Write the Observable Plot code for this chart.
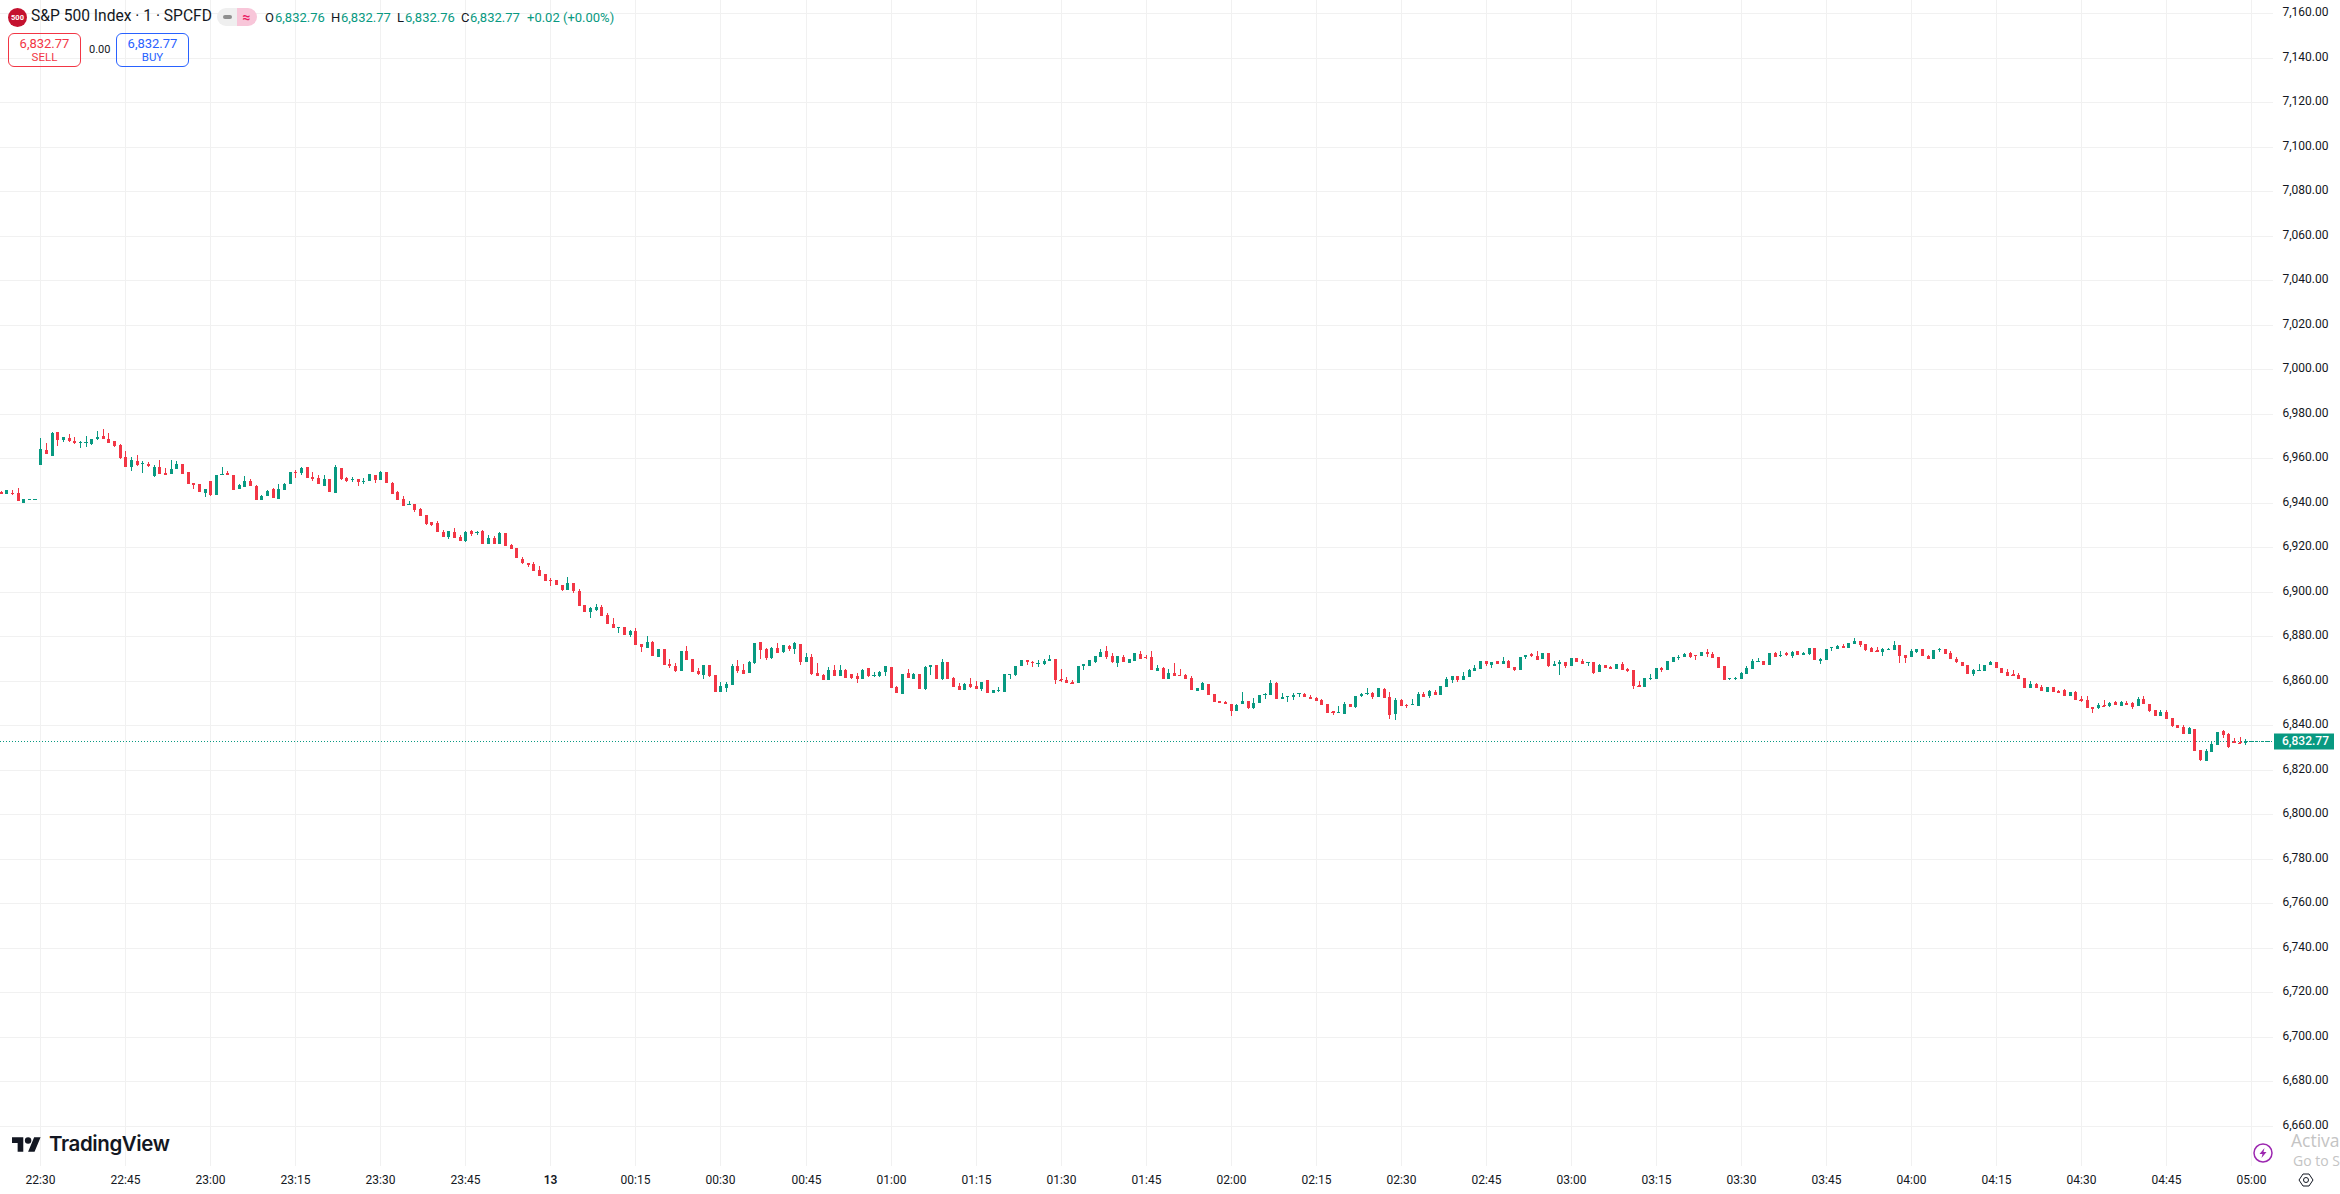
<!DOCTYPE html>
<html><head><meta charset="utf-8">
<script src="https://cdn.jsdelivr.net/npm/d3@7"></script>
<script src="https://cdn.jsdelivr.net/npm/@observablehq/plot@0.6"></script>
<style>
html,body{margin:0;padding:0;background:#fff;width:2340px;height:1194px;overflow:hidden}
#wrap{position:relative;width:2340px;height:1194px;overflow:hidden;font-family:Roboto,sans-serif;color:#131722}
#wrap svg.plot{display:block}
.o{position:absolute;white-space:nowrap;line-height:1}
.box{position:absolute;box-sizing:border-box;border:1px solid;border-radius:6px;top:33px;height:34px;width:73px;text-align:center}
.box div{position:absolute;left:0;right:0;line-height:1}
</style></head><body><div id="wrap"></div>
<script>
// each row: open, high, low, close
const bars2223 = [ // 22:23 - 22:59
[6945,6945.3,6943.95,6944.1],[6944.1,6945.75,6944.1,6945.75],[6944.55,6945.75,6943.5,6943.95],[6944.4,6946.65,6940.8,6940.8],[6939.9,6941.7,6939.9,6941.7],[6941.55,6941.55,6941.55,6941.55],[6941.55,6941.55,6941.55,6941.55],
[6957,6969.15,6957,6964.2],[6963.75,6966.9,6961.95,6961.95],[6961.05,6971.7,6961.05,6971.4],[6971.85,6971.85,6965.55,6968.25],[6968.25,6969.6,6967.35,6969.6],[6969.15,6970.95,6967.35,6967.8],[6967.8,6969.6,6966.45,6967.35],[6967.05,6967.8,6964.65,6967.35],[6967.05,6970.05,6965.1,6967.35],[6966.45,6968.7,6966,6968.7],
[6968.7,6972.3,6968.25,6969.6],[6970.05,6973.2,6968.7,6968.7],[6968.7,6971.4,6966.9,6966.9],[6967.8,6967.8,6965.1,6965.55],[6966,6966.45,6959.7,6960.15],[6960.6,6963.3,6956.1,6956.1],[6956.1,6960.6,6954.3,6959.25],[6958.8,6961.5,6956.55,6957],[6957.75,6958.8,6953.4,6957.9],[6957.45,6958.35,6956.1,6956.55],
[6952.05,6957,6951.6,6956.1],[6956.1,6959.25,6952.95,6952.95],[6953.4,6955.65,6952.5,6952.95],[6952.95,6959.25,6952.95,6955.2],[6955.2,6958.8,6955.2,6957.45],[6957.45,6957.45,6952.95,6952.95],[6953.85,6953.85,6948.45,6948.45],[6948.9,6948.9,6946.2,6948.6],[6948.45,6948.45,6944.85,6944.85],[6944.4,6946.2,6942.6,6946.2]
];
const bars2300 = [ // 23:00 - 23:59
[6949.8,6949.8,6943.05,6943.5],[6943.5,6952.5,6943.5,6952.5],[6952.65,6956.1,6952.65,6952.95],[6953.4,6954.3,6952.5,6952.95],[6952.5,6952.5,6945.75,6945.75],[6946.2,6948.45,6946.2,6948],[6947.1,6952.05,6947.1,6949.8],[6949.8,6950.7,6947.55,6947.55],[6947.55,6948,6941.25,6941.25],[6941.25,6943.5,6941.25,6943.05],
[6943.05,6945.75,6943.05,6945.3],[6946.2,6946.65,6942.15,6942.15],[6941.7,6948.45,6941.7,6946.2],[6945.75,6948.9,6945.75,6948.45],[6948.45,6953.85,6948.45,6953.85],[6953.85,6954.75,6951.15,6953.7],[6953.4,6956.1,6952.5,6955.65],[6956.1,6956.1,6951.15,6951.15],[6951.6,6953.85,6949.8,6951.15],[6951.15,6952.5,6948.45,6948.45],
[6947.55,6952.5,6947.55,6950.7],[6950.7,6950.7,6944.85,6944.85],[6944.4,6957,6944.4,6956.1],[6955.65,6955.65,6950.25,6950.7],[6951.15,6951.6,6949.35,6949.8],[6950.4,6951.6,6949.35,6950.7],[6950.7,6950.7,6947.55,6949.35],[6949.5,6951.15,6948.45,6949.8],[6949.8,6952.95,6949.8,6952.95],[6952.5,6952.5,6948.9,6950.25],
[6950.25,6954.3,6950.25,6953.85],[6953.85,6953.85,6948.9,6948.9],[6948.9,6949.35,6943.95,6943.95],[6944.85,6945.3,6941.25,6941.25],[6941.85,6943.2,6938.7,6938.7],[6939.15,6940.95,6939.15,6939.6],[6939.6,6939.6,6936,6936.9],[6937.35,6937.8,6934.2,6934.2],[6934.65,6934.65,6930.15,6930.6],[6931.5,6931.5,6929.7,6930.15],
[6931.05,6931.95,6927,6927],[6927,6927.9,6924.75,6924.75],[6924.75,6927.45,6923.85,6927.45],[6927,6928.8,6924.3,6924.3],[6924.75,6925.65,6922.95,6922.95],[6922.95,6927.45,6922.5,6927],[6927.45,6927.9,6925.2,6926.1],[6926.7,6927.45,6925.65,6927],[6927.45,6927.9,6921.6,6921.6],[6921.6,6925.65,6921.6,6924.3],
[6924.3,6925.2,6921.6,6921.6],[6921.6,6927,6921.6,6926.55],[6926.55,6926.55,6920.7,6920.7],[6921.15,6921.6,6919.35,6919.35],[6919.8,6919.8,6915.3,6915.3],[6914.85,6915.75,6912.6,6913.05],[6913.05,6913.05,6911.25,6912.15],[6912.6,6913.5,6909.45,6909.45],[6909.9,6911.7,6907.2,6907.2],[6908.1,6908.1,6904.95,6904.95]
];
const bars0000 = [ // 00:00 - 00:59
[6905.4,6906.3,6902.7,6905.1],[6905.4,6905.4,6903.15,6903.15],[6903.15,6903.15,6900.45,6900.9],[6900.9,6906.75,6900.9,6904.05],[6904.05,6904.05,6899.55,6900.45],[6900.45,6901.35,6893.7,6893.7],[6894.15,6894.15,6891,6891],[6891,6893.25,6888.3,6892.8],[6891.9,6894.6,6891.45,6893.25],[6893.25,6894.15,6889.2,6889.2],
[6889.65,6890.55,6885.6,6885.6],[6885.6,6888.3,6883.8,6883.8],[6883.95,6884.25,6881.55,6884.25],[6884.25,6884.25,6880.65,6880.65],[6880.65,6882.9,6879.75,6882.45],[6882.45,6883.8,6876.15,6876.15],[6876.6,6876.6,6873,6875.25],[6874.8,6880.2,6874.8,6877.5],[6877.5,6877.95,6871.2,6871.2],[6870.75,6874.35,6870.75,6874.35],
[6874.35,6874.35,6867.15,6867.15],[6867.6,6869.85,6865.8,6866.7],[6866.7,6868.05,6864,6864.45],[6864.45,6873.45,6864.45,6873.45],[6873.45,6875.7,6869.4,6869.4],[6869.85,6869.85,6864,6864],[6864.45,6865.8,6862.65,6863.1],[6862.65,6867.15,6860.85,6867.15],[6867.15,6867.15,6861.75,6862.2],[6862.65,6862.65,6855,6855],
[6855,6859.5,6855,6857.7],[6856.8,6859.5,6855,6858.6],[6858.15,6867.6,6858.15,6866.7],[6866.7,6869.4,6863.55,6864.45],[6864.9,6867.6,6863.1,6863.1],[6863.55,6868.95,6863.55,6868.5],[6868.05,6877.05,6867.6,6877.05],[6877.5,6877.5,6869.85,6873.9],[6874.35,6874.8,6869.4,6870.3],[6870.3,6875.25,6869.85,6874.8],
[6874.8,6877.05,6872.55,6872.55],[6873,6876.15,6872.55,6876.15],[6875.7,6876.15,6873.45,6874.35],[6874.35,6877.5,6872.1,6877.05],[6876.6,6876.6,6867.15,6868.5],[6868.55,6872.6,6868.55,6870.8],[6870.8,6872.15,6862.7,6863.15],[6863.6,6868.1,6862.25,6862.25],[6862.7,6863.15,6860.45,6860.45],[6860.45,6866.3,6860.45,6864.95],
[6864.95,6867.2,6862.25,6862.25],[6862.25,6867.2,6862.25,6864.95],[6864.95,6865.4,6861.35,6861.35],[6863.15,6863.15,6860.9,6861.35],[6862.25,6863.6,6859.1,6860.9],[6860.9,6865.4,6860.9,6864.95],[6865.85,6865.85,6861.8,6862.25],[6862.25,6864.05,6861.8,6862.55],[6862.25,6864.5,6861.8,6864.05],[6864.05,6866.75,6862.25,6866.75]
];
const bars0100 = [ // 01:00 - 01:59
[6866.3,6866.3,6856.85,6856.85],[6857.3,6857.75,6854.6,6854.6],[6854.15,6863.15,6854.15,6863.15],[6863.6,6865.4,6861.35,6861.35],[6860.9,6863.6,6860.9,6863.15],[6863.15,6863.15,6856.4,6856.4],[6856.4,6866.75,6855.95,6866.3],[6866.3,6867.2,6862.7,6867.2],[6867.2,6867.2,6860.9,6860.9],[6860.9,6869.9,6860.45,6868.55],
[6868.55,6868.55,6860.9,6860.9],[6861.35,6861.8,6857.3,6857.3],[6857.75,6859.1,6855.95,6855.95],[6855.95,6859.1,6855.95,6858.65],[6858.65,6861.35,6856.85,6857.3],[6857.75,6860,6856.4,6856.4],[6856.4,6859.55,6855.5,6859.55],[6860.45,6860.45,6854.6,6854.6],[6854.6,6855.95,6854.6,6855.95],[6855.5,6857.3,6855.05,6855.8],
[6855.05,6863.15,6855.05,6863.15],[6862.85,6863.15,6860.9,6863.15],[6862.7,6866.75,6862.25,6866.75],[6866.75,6869.45,6866.75,6869.45],[6869.45,6869.45,6867.2,6868.55],[6868.55,6869,6866.3,6867.8],[6867.8,6869.45,6866.3,6868.1],[6867.65,6869.9,6867.2,6869],[6869,6871.7,6869,6869.9],[6869.9,6869.9,6858.65,6860.45],
[6860.9,6865.4,6859.55,6860.45],[6860.45,6861.8,6859.1,6859.1],[6859.55,6860.45,6859.1,6859.1],[6859.1,6866.75,6859.1,6866.75],[6866.75,6867.65,6864.95,6867.65],[6866.75,6869.45,6866.75,6869.45],[6868.55,6871.25,6868.1,6871.25],[6870.8,6874.4,6870.8,6873.05],[6873.5,6875.75,6869.9,6870.8],[6871.25,6872.6,6868.1,6868.55],
[6868.1,6871.25,6866.3,6871.25],[6870.8,6871.7,6868.55,6868.55],[6868.1,6869.9,6868.1,6869.9],[6869,6872.6,6869,6872.6],[6872.15,6873.5,6869.9,6869.9],[6870.8,6871.7,6869.9,6870.5],[6870.8,6873.5,6864.95,6864.95],[6864.5,6867.2,6864.5,6865.85],[6865.85,6866.3,6860.9,6860.9],[6860.9,6865.4,6860.9,6863.6],
[6863.6,6868.1,6862.25,6862.25],[6862.7,6865.4,6862.25,6862.4],[6862.7,6863.15,6860.9,6860.9],[6861.35,6862.25,6855.95,6855.95],[6855.5,6856.85,6855.5,6856.85],[6855.95,6859.25,6855.95,6858.95],[6858.65,6858.65,6853.7,6853.7],[6854.15,6854.15,6850.55,6850.55],[6851,6851,6850.1,6850.1],[6850.55,6851,6849.65,6849.8]
];
const bars0200 = [ // 02:00 - 02:59
[6849.65,6849.65,6844.25,6846.5],[6846.5,6849.65,6846.5,6849.2],[6849.65,6855.05,6849.65,6851],[6851,6851,6847.4,6847.85],[6847.85,6852.35,6847.4,6850.1],[6850.1,6853.7,6850.1,6853.7],[6853.85,6854.6,6851.9,6854.15],[6853.7,6860.45,6853.7,6859.1],[6859.1,6859.55,6851.9,6851.9],[6851.9,6854.6,6851.9,6852.8],
[6852.95,6853.25,6850.55,6853.25],[6852.8,6854.6,6851.45,6853.7],[6854.3,6854.6,6852.8,6854.6],[6854.15,6854.6,6852.8,6852.8],[6852.8,6853.7,6851.9,6851.9],[6852.35,6852.8,6851,6851],[6851.45,6851.9,6849.2,6849.2],[6849.65,6849.65,6845.6,6845.6],[6846.5,6846.5,6844.7,6846.05],[6845.75,6848.75,6845.6,6846.05],
[6845.15,6850.55,6845.15,6849.65],[6849.65,6849.65,6848.3,6848.3],[6848.3,6853.25,6847.85,6853.25],[6853.25,6854.6,6852.8,6854.15],[6854.15,6856.85,6853.7,6854.6],[6854.6,6855.05,6851.9,6852.8],[6852.8,6856.85,6852.8,6856.85],[6856.4,6856.85,6852.35,6852.35],[6852.8,6855.05,6842.9,6844.7],[6845.15,6852.35,6842.45,6851.45],
[6851.45,6851.9,6848.75,6848.75],[6849.2,6849.65,6847.85,6848.6],[6849.35,6851.9,6849.2,6849.65],[6848.75,6855.05,6848.75,6854.15],[6854.15,6855.05,6852.8,6852.8],[6853.25,6855.95,6852.35,6855.5],[6855.05,6855.95,6853.7,6853.7],[6853.7,6857.75,6853.7,6857.75],[6857.3,6861.8,6857.3,6860.9],[6860.45,6862.25,6859.1,6862.25],
[6862.25,6862.25,6859.55,6860.45],[6860.45,6864.05,6860.45,6862.25],[6861.8,6865.4,6861.8,6864.95],[6864.5,6867.2,6864.5,6865.85],[6865.4,6869,6865.4,6869],[6869,6869,6866.75,6867.65],[6867.2,6868.55,6865.85,6868.55],[6869,6869,6867.65,6867.65],[6867.65,6870.8,6867.65,6869],[6869,6869.45,6865.85,6865.85],
[6866.3,6866.3,6864.5,6864.95],[6864.95,6870.8,6864.95,6870.8],[6870.8,6871.7,6869.9,6871.7],[6872.15,6872.6,6870.8,6871.25],[6871.25,6873.5,6869.45,6869.45],[6869.9,6872.6,6869.9,6872.6],[6872.6,6872.6,6866.3,6866.75],[6866.75,6869,6866.75,6867.65],[6867.65,6869.45,6862.7,6868.55],[6868.55,6868.55,6865.85,6866.75]
];
const bars0300 = [ // 03:00 - 03:59
[6866.75,6870.35,6866.75,6870.35],[6870.35,6870.35,6868.55,6868.55],[6869,6869.9,6867.65,6867.65],[6868.25,6868.55,6866.75,6868.55],[6868.55,6868.55,6863.15,6863.6],[6864.05,6867.65,6864.05,6867.2],[6867.2,6867.2,6865.85,6865.85],[6866.3,6866.75,6865.4,6865.85],[6865.4,6867.65,6865.4,6867.65],[6867.65,6868.55,6864.95,6864.95],
[6865.4,6865.85,6864.05,6864.95],[6864.95,6864.95,6856.4,6857.75],[6858.2,6860,6857.3,6857.75],[6857.3,6861.35,6857.3,6861.35],[6860.9,6863.15,6860.45,6861.2],[6860.9,6865.85,6860.9,6865.85],[6865.85,6866.3,6864.05,6864.95],[6864.95,6869,6864.95,6869],[6868.55,6870.8,6868.55,6870.8],[6870.5,6871.7,6869.45,6870.8],
[6870.8,6872.6,6870.8,6872.15],[6872.6,6873.05,6870.35,6870.8],[6871.7,6871.7,6869.45,6871.4],[6871.25,6873.05,6871.25,6873.05],[6873.05,6874.4,6870.8,6872.15],[6872.15,6873.05,6870.35,6870.35],[6870.8,6870.8,6865.85,6865.85],[6866.75,6866.75,6860.45,6860.45],[6860.9,6861.2,6860.45,6861.2],[6860.9,6861.8,6860.45,6861.2],
[6860.9,6864.05,6860.9,6863.6],[6863.15,6866.75,6863.15,6865.85],[6865.4,6869.9,6865.4,6869],[6868.7,6870.35,6868.7,6869],[6869,6869,6867.2,6867.2],[6867.2,6872.6,6867.2,6872.6],[6872.6,6873.05,6870.8,6870.8],[6871.4,6873.5,6870.8,6871.7],[6872.3,6873.05,6871.25,6871.7],[6871.25,6873.5,6870.35,6873.05],
[6873.5,6873.5,6871.7,6871.7],[6871.7,6873.05,6871.7,6872.6],[6872.15,6874.85,6871.7,6874.85],[6874.85,6874.85,6869.45,6869.45],[6869,6870.35,6867.65,6869.9],[6869.45,6874.4,6869.45,6874.4],[6874.7,6875,6873.5,6875],[6874.4,6876.2,6874.4,6875.75],[6875.75,6876.65,6874.85,6874.85],[6874.85,6877.1,6874.85,6877.1],
[6876.65,6879.35,6876.65,6878],[6878,6878,6875.3,6876.2],[6876.65,6876.65,6873.5,6873.95],[6874.85,6875.3,6873.05,6873.05],[6873.95,6875.3,6873.5,6873.5],[6873.05,6874.85,6871.25,6874.4],[6874.1,6874.85,6874.1,6874.4],[6873.95,6878,6873.95,6876.2],[6876.2,6876.2,6868.1,6871.25],[6871.7,6871.7,6868.1,6870.35]
];
const bars0400 = [ // 04:00 - 04:59
[6870.8,6874.4,6870.8,6873.5],[6873.05,6874.4,6872.6,6874.4],[6874.4,6874.4,6871.25,6871.25],[6871.25,6871.7,6869.9,6869.9],[6869.9,6873.95,6869.9,6873.95],[6873.95,6874.85,6873.05,6874.25],[6874.4,6874.4,6872.15,6872.15],[6872.6,6873.5,6869.9,6869.9],[6869.9,6870.8,6868.1,6868.55],[6868.55,6868.55,6866.75,6866.75],
[6867.2,6867.2,6863.15,6863.15],[6863.15,6865.4,6862.25,6864.95],[6864.65,6867.65,6864.65,6864.95],[6864.5,6867.2,6864.5,6867.2],[6867.2,6869,6867.2,6868.55],[6868.55,6868.55,6865.85,6865.85],[6865.85,6865.85,6863.6,6863.6],[6864.05,6865.4,6862.25,6862.25],[6863.15,6864.95,6862.25,6862.7],[6862.7,6863.6,6860.9,6860.9],
[6861.35,6861.35,6856.85,6856.85],[6856.85,6860,6856.85,6858.65],[6858.65,6859.1,6856.85,6856.85],[6857.3,6858.2,6855.5,6855.5],[6855.05,6857.3,6855.05,6857.3],[6857.3,6857.3,6855.05,6855.05],[6855.5,6855.95,6854.45,6855.05],[6855.95,6856.4,6853.25,6853.25],[6853.25,6855.05,6853.25,6855.05],[6855.05,6855.5,6851.45,6851.45],
[6851.9,6853.25,6850.55,6851.45],[6851.45,6853.25,6847.85,6847.85],[6848.15,6848.15,6845.6,6847.85],[6847.85,6850.1,6847.4,6849.2],[6849.2,6851.45,6848.75,6848.75],[6848.75,6850.55,6848.3,6850.1],[6850.55,6851,6849.2,6849.2],[6848.75,6851,6848.75,6850.55],[6850.1,6851,6849.65,6849.8],[6850.1,6850.55,6847.4,6848.3],
[6848.75,6852.8,6848.75,6851.9],[6851.9,6853.25,6849.65,6849.65],[6849.65,6849.65,6846.05,6846.5],[6846.95,6846.95,6844.25,6844.25],[6844.25,6846.95,6844.25,6846.05],[6846.05,6846.95,6842.9,6842.9],[6843.35,6843.35,6839.3,6839.75],[6840.2,6840.2,6838.85,6838.85],[6839.3,6840.2,6836.15,6836.15],[6836.15,6839.3,6836.15,6838.85],
[6838.4,6838.4,6828.5,6828.5],[6828.95,6828.95,6824,6824.45],[6824,6829.4,6824,6828.5],[6828.05,6832.55,6828.05,6831.65],[6831.2,6837.05,6831.2,6837.05],[6837.5,6837.95,6834.35,6835.7],[6836.15,6836.6,6829.85,6830.3],[6832.85,6834.35,6832.55,6832.55],[6832.55,6834.8,6832.1,6832.1],[6832.1,6833.9,6831.2,6833]
];
const bars0500 = [ // 05:00 - 05:03
[6832.75,6832.75,6832.75,6832.75],[6832.77,6832.77,6832.77,6832.77],[6832.77,6832.77,6832.77,6832.77],[6832.76,6832.77,6832.76,6832.77]
];
const priceTicks = [6660,6680,6700,6720,6740,6760,6780,6800,6820,6840,6860,6880,6900,6920,6940,6960,6980,7000,7020,7040,7060,7080,7100,7120,7140,7160];
const timeLabels = ["22:30","22:45","23:00","23:15","23:30","23:45","13","00:15","00:30","00:45","01:00","01:15","01:30","01:45","02:00","02:15","02:30","02:45","03:00","03:15","03:30","03:45","04:00","04:15","04:30","04:45","05:00"];
const lastPrice = 6832.77;
const UP = "#089981", DOWN = "#f23645", GRID = "#f1f1f1";

const T0 = Date.UTC(2026,2,12,22,30);
const at = m => new Date(T0 + m*60000);
const rows = [...bars2223,...bars2300,...bars0000,...bars0100,...bars0200,...bars0300,...bars0400,...bars0500];
const candles = rows.map(([o,h,l,c],i)=>({t:at(i-7),o,h,l,c,col:c>=o?UP:DOWN}));
const dojis = candles.filter(d=>Math.abs(d.o-d.c)<0.5);
const timeTicks = timeLabels.map((s,i)=>at(i*15));
const labelAt = new Map(timeTicks.map((d,i)=>[+d,timeLabels[i]]));
const fmt = d3.format(",.2f");

const chart = Plot.plot({
  width:2340,height:1194,marginTop:0,marginLeft:0,marginRight:67,marginBottom:28,
  style:{fontFamily:"Roboto,sans-serif",fontSize:"12px",background:"#fff",color:"#131722"},
  x:{type:"utc",domain:[at(-7.11),at(393.9)],round:true},
  y:{domain:[6642.03,7165.84],round:true},
  marks:[
    Plot.gridY(priceTicks,{stroke:GRID,strokeOpacity:1}),
    Plot.gridX(timeTicks,{stroke:GRID,strokeOpacity:1}),
    Plot.axisY(priceTicks,{anchor:"right",tickSize:0,tickPadding:9,dy:-1,label:null,tickFormat:fmt}),
    Plot.axisX(timeTicks.filter(d=>labelAt.get(+d)!=="13"),{anchor:"bottom",tickSize:0,tickPadding:9,label:null,tickFormat:d=>labelAt.get(+d)}),
    Plot.axisX(timeTicks.filter(d=>labelAt.get(+d)==="13"),{anchor:"bottom",tickSize:0,tickPadding:9,label:null,fontWeight:600,tickFormat:d=>labelAt.get(+d)}),
    Plot.ruleY([lastPrice],{stroke:UP,strokeDasharray:"1,2"}),
    Plot.ruleX(candles,{x:"t",y1:"l",y2:"h",stroke:"col",strokeWidth:1}),
    Plot.ruleX(candles,{x:"t",y1:"o",y2:"c",stroke:"col",strokeWidth:3}),
    Plot.ruleY(dojis,{x1:d=>new Date(+d.t-15000),x2:d=>new Date(+d.t+20000),y:"c",stroke:"col",strokeWidth:1}),
    Plot.ruleY([lastPrice],{x1:at(394.1),x2:at(404.7),stroke:UP,strokeWidth:16}),
    Plot.text([lastPrice],{x:at(399.6),y:d=>d,text:d=>fmt(d),fill:"#fff",fontSize:12,fontWeight:500})
  ]
});
const wrap = document.getElementById("wrap");
wrap.append(chart);

const hdr = `
<svg class="o" style="left:8px;top:8px" width="19" height="19" viewBox="0 0 19 19"><circle cx="9.5" cy="9.5" r="9.5" fill="#c4122f"/><text x="9.5" y="12" text-anchor="middle" font-family="Roboto" font-weight="700" font-size="7.5" fill="#fff">500</text></svg>
<div class="o" style="left:31px;top:9px;font-size:15.6px">S&amp;P 500 Index · 1 · SPCFD</div>
<div class="o" style="left:217px;top:8px;width:20px;height:18px;background:#efefef;border-radius:9px 0 0 9px"></div>
<div class="o" style="left:237px;top:8px;width:20px;height:18px;background:#f8c6d9;border-radius:0 9px 9px 0"></div>
<div class="o" style="left:223px;top:15px;width:9px;height:4px;background:#8f8f8f;border-radius:2px"></div>
<div class="o" style="left:237px;top:10px;width:19px;text-align:center;font-size:14px;font-weight:700;color:#e91e63">≈</div>
<div class="o" style="left:265px;top:11px;font-size:13px">O</div><div class="o" style="left:275px;top:11px;font-size:13px;color:#089981">6,832.76</div>
<div class="o" style="left:331px;top:11px;font-size:13px">H</div><div class="o" style="left:341px;top:11px;font-size:13px;color:#089981">6,832.77</div>
<div class="o" style="left:397px;top:11px;font-size:13px">L</div><div class="o" style="left:405px;top:11px;font-size:13px;color:#089981">6,832.76</div>
<div class="o" style="left:461px;top:11px;font-size:13px">C</div><div class="o" style="left:470px;top:11px;font-size:13px;color:#089981">6,832.77</div>
<div class="o" style="left:527px;top:11px;font-size:13px;color:#089981">+0.02 (+0.00%)</div>
<div class="box" style="left:8px;border-color:#f23645;color:#f23645"><div style="top:3px;font-size:13px">6,832.77</div><div style="top:18px;font-size:11.5px">SELL</div></div>
<div class="o" style="left:89px;top:44px;font-size:11px">0.00</div>
<div class="box" style="left:116px;border-color:#2962ff;color:#2962ff"><div style="top:3px;font-size:13px">6,832.77</div><div style="top:18px;font-size:11.5px">BUY</div></div>
<svg class="o" style="left:12px;top:1137px" width="29" height="15" viewBox="0 4 36 18"><path d="M14 22H7V11H0V4h14v18zM28 22h-8l7.5-18h8L28 22z" fill="#131722"/><circle cx="20" cy="8" r="4" fill="#131722"/></svg>
<div class="o" style="left:49px;top:1134px;font-family:Inter,sans-serif;font-weight:600;font-size:20.5px;letter-spacing:-0.4px;color:#131722">TradingView</div>
<svg class="o" style="left:2253px;top:1143px" width="20" height="20" viewBox="0 0 20 20"><circle cx="10" cy="10" r="9" fill="#fff" stroke="#9c27b0" stroke-width="1.5"/><path d="M11.5 5 L6.5 11 H9.5 L8.5 15 L13.5 9 H10.5 Z" fill="#9c27b0"/></svg>
<div class="o" style="left:2291px;top:1132px;font-family:'Open Sans',sans-serif;font-size:17.5px;color:#c4c4c4">Activa</div>
<div class="o" style="left:2293px;top:1154px;font-family:'Open Sans',sans-serif;font-size:14px;color:#c4c4c4">Go to S</div>
<svg class="o" style="left:2298px;top:1172px" width="16" height="16" viewBox="0 0 16 16"><path d="M5 2 H11 L15 8 L11 14 H5 L1 8 Z" fill="none" stroke="#131722"/><circle cx="8" cy="8" r="2.5" fill="none" stroke="#131722"/></svg>`;
wrap.insertAdjacentHTML("beforeend",hdr);
</script></body></html>
